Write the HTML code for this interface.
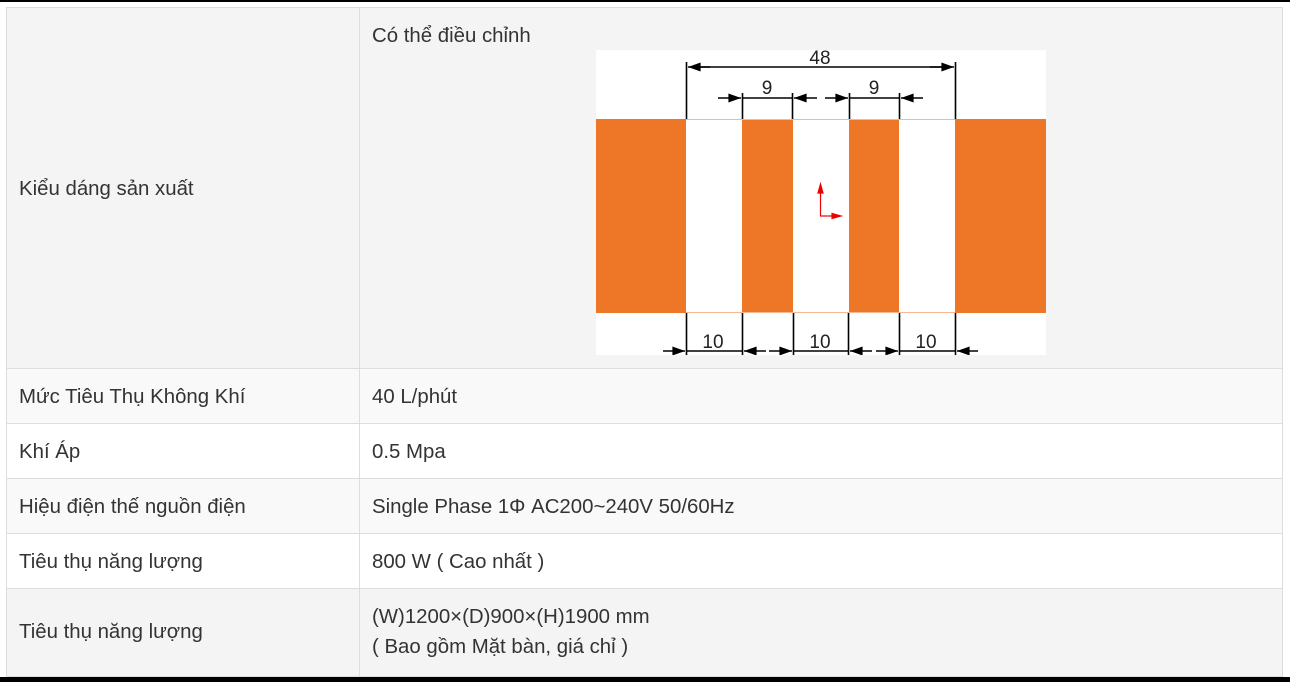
<!DOCTYPE html>
<html><head><meta charset="utf-8"><style>
html,body{margin:0;padding:0;background:#fff;width:1290px;height:682px;overflow:hidden;position:relative;font-family:"Liberation Sans","DejaVu Sans",sans-serif;color:#333;}
.bar{position:absolute;left:0;width:1290px;background:#000;}
.row{position:absolute;left:6px;width:1276px;border-top:1px solid #ddd;box-sizing:border-box;}
.vl{position:absolute;left:359px;width:1px;background:#ddd;top:7px;height:670px;}
.t{position:absolute;font-size:20.4px;white-space:nowrap;line-height:24px;}
.lb{position:absolute;left:6px;width:1px;top:7px;height:670px;background:#ddd}
.rb{position:absolute;left:1282px;width:1px;top:7px;height:670px;background:#ddd}
</style></head><body>
<div class="bar" style="top:0;height:2px"></div>
<div class="row" style="top:7px;height:361px;background:#f4f4f4"></div>
<div class="row" style="top:368px;height:55px;background:#f9f9f9"></div>
<div class="row" style="top:423px;height:55px;background:#fff"></div>
<div class="row" style="top:478px;height:55px;background:#f9f9f9"></div>
<div class="row" style="top:533px;height:55px;background:#fff"></div>
<div class="row" style="top:588px;height:89px;background:#f4f4f4;border-bottom:1px solid #ddd"></div>
<div class="vl"></div><div class="lb"></div><div class="rb"></div>
<div class="bar" style="top:677px;height:5px"></div>

<div class="t" style="left:19px;top:177px">Kiểu dáng sản xuất</div>
<div class="t" style="left:372px;top:24px">Có thể điều chỉnh</div>
<div class="t" style="left:19px;top:385px">Mức Tiêu Thụ Không Khí</div>
<div class="t" style="left:372px;top:385px">40 L/phút</div>
<div class="t" style="left:19px;top:440px">Khí Áp</div>
<div class="t" style="left:372px;top:440px">0.5 Mpa</div>
<div class="t" style="left:19px;top:495px">Hiệu điện thế nguồn điện</div>
<div class="t" style="left:372px;top:495px">Single Phase 1Φ AC200~240V 50/60Hz</div>
<div class="t" style="left:19px;top:550px">Tiêu thụ năng lượng</div>
<div class="t" style="left:372px;top:550px">800 W ( Cao nhất )</div>
<div class="t" style="left:19px;top:620px">Tiêu thụ năng lượng</div>
<div class="t" style="left:372px;top:605px">(W)1200×(D)900×(H)1900 mm</div>
<div class="t" style="left:372px;top:635px">( Bao gồm Mặt bàn, giá chỉ )</div>

<svg style="position:absolute;left:596px;top:50px" width="450" height="305" viewBox="596 50 450 305">
<defs>
<marker id="a" viewBox="0 0 14 10" refX="14" refY="5" markerWidth="14" markerHeight="9" markerUnits="userSpaceOnUse" orient="auto"><path d="M0,0L14,5L0,10z" fill="#000"/></marker>
</defs>
<rect x="596" y="50" width="450" height="305" fill="#fff"/>
<rect x="596" y="119" width="450" height="194" fill="#ee7727"/>
<rect x="686" y="119" width="56" height="194" fill="#fff"/>
<rect x="793" y="119" width="56" height="194" fill="#fff"/>
<rect x="899" y="119" width="56" height="194" fill="#fff"/>
<g stroke="#f5b890" stroke-width="1"><line x1="686" y1="119.5" x2="955" y2="119.5"/><line x1="686" y1="312.5" x2="955" y2="312.5"/></g>
<g stroke="#000" stroke-width="1.6" fill="none">
<line x1="686.5" y1="62" x2="686.5" y2="119"/><line x1="955.5" y1="62" x2="955.5" y2="119"/>
<line x1="742.5" y1="93" x2="742.5" y2="119"/><line x1="792.5" y1="93" x2="792.5" y2="119"/>
<line x1="849.5" y1="93" x2="849.5" y2="119"/><line x1="899.5" y1="93" x2="899.5" y2="119"/>
<line x1="710" y1="67" x2="688" y2="67" marker-end="url(#a)"/>
<line x1="700" y1="67" x2="942" y2="67"/>
<line x1="930" y1="67" x2="954" y2="67" marker-end="url(#a)"/>
<line x1="718" y1="98" x2="741" y2="98" marker-end="url(#a)"/>
<line x1="742" y1="98" x2="793" y2="98"/>
<line x1="817" y1="98" x2="794" y2="98" marker-end="url(#a)"/>
<line x1="825" y1="98" x2="848" y2="98" marker-end="url(#a)"/>
<line x1="849" y1="98" x2="899" y2="98"/>
<line x1="923" y1="98" x2="901" y2="98" marker-end="url(#a)"/>
<line x1="686.5" y1="313" x2="686.5" y2="355"/><line x1="742.5" y1="313" x2="742.5" y2="355"/>
<line x1="793.5" y1="313" x2="793.5" y2="355"/><line x1="848.5" y1="313" x2="848.5" y2="355"/>
<line x1="899.5" y1="313" x2="899.5" y2="355"/><line x1="955.5" y1="313" x2="955.5" y2="355"/>
<line x1="663" y1="351" x2="685" y2="351" marker-end="url(#a)"/>
<line x1="686" y1="351" x2="742" y2="351"/>
<line x1="766" y1="351" x2="744" y2="351" marker-end="url(#a)"/>
<line x1="769" y1="351" x2="792" y2="351" marker-end="url(#a)"/>
<line x1="793" y1="351" x2="848" y2="351"/>
<line x1="872" y1="351" x2="850" y2="351" marker-end="url(#a)"/>
<line x1="876" y1="351" x2="898" y2="351" marker-end="url(#a)"/>
<line x1="899" y1="351" x2="955" y2="351"/>
<line x1="978" y1="351" x2="957" y2="351" marker-end="url(#a)"/>
</g>
<g font-family="Liberation Sans,sans-serif" font-size="19" fill="#222" text-anchor="middle">
<text x="820" y="64">48</text>
<text x="767" y="94">9</text>
<text x="874" y="94">9</text>
<text x="713" y="348">10</text>
<text x="820" y="348">10</text>
<text x="926" y="348">10</text>
</g>
<g stroke="#e00" stroke-width="1.2" fill="#e00">
<line x1="820.5" y1="216" x2="820.5" y2="190"/><path d="M818,193L820.5,184L823,193z"/>
<line x1="820" y1="216" x2="834" y2="216"/><path d="M832,213.5L841,216L832,218.5z"/>
</g>
</svg>
</body></html>
